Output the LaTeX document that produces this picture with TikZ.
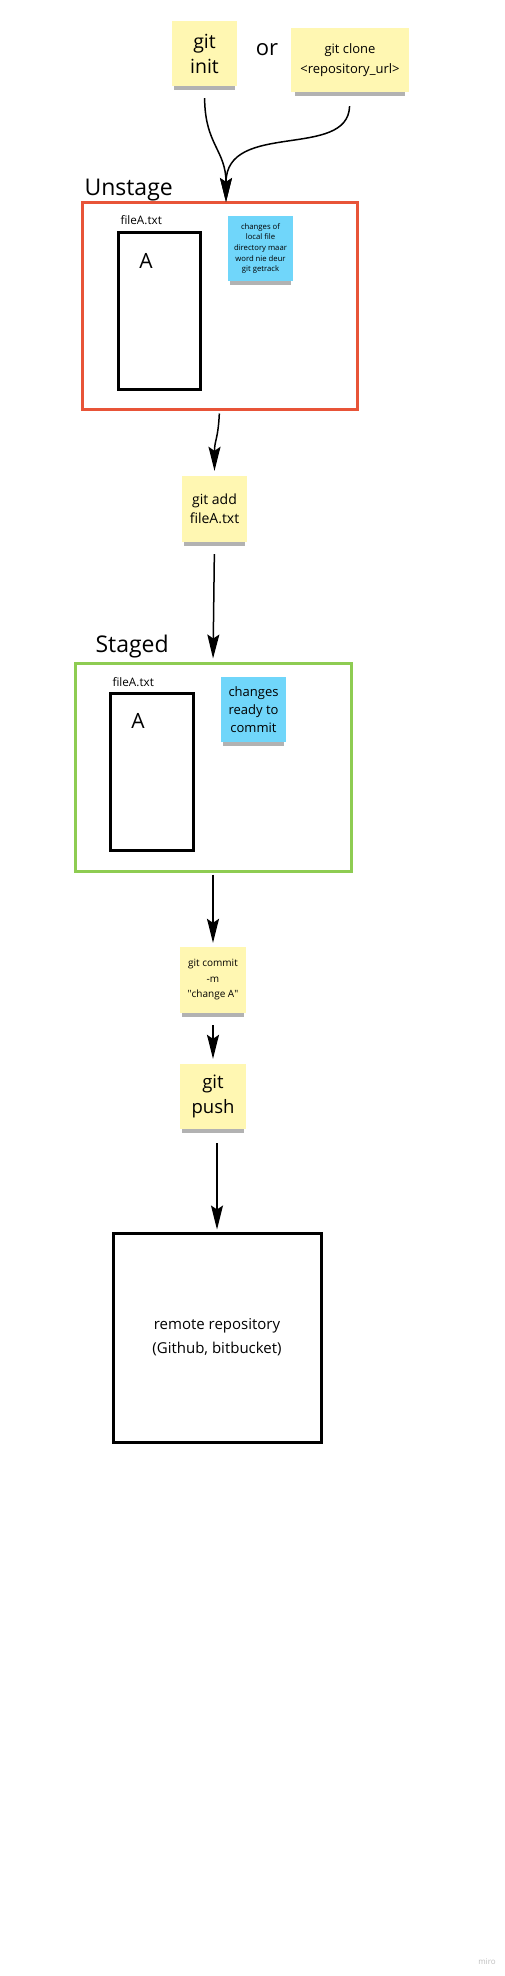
\documentclass[tikz,border=0pt]{standalone}
\usepackage{fontspec}
\setmainfont{Open Sans}
\usetikzlibrary{arrows.meta, positioning, shadows}

\definecolor{stickyyellow}{RGB}{255,247,178}
\definecolor{stickyblue}{RGB}{112,214,250}
\definecolor{unstagered}{RGB}{232,84,56}
\definecolor{stagedgreen}{RGB}{142,204,82}

\begin{document}
\begin{tikzpicture}[x=1pt, y=-1pt,
    sticky/.style={fill=stickyyellow, inner sep=0pt, align=center,
        drop shadow={shadow xshift=0pt, shadow yshift=-6pt, shadow scale=0.94, opacity=0.3, fill=black}},
    note/.style={sticky, fill=stickyblue},
    frame/.style={draw, line width=3pt, inner sep=0pt},
    flow/.style={-{Stealth[length=24pt, width=12pt, inset=4pt]}, line width=1.5pt},
    heading/.style={font=\fontsize{23}{28}\selectfont, anchor=base west},
    filelabel/.style={font=\fontsize{11.7}{14}\selectfont, anchor=base west},
    letter/.style={font=\fontsize{21}{25}\selectfont, anchor=base}]

    % Page
    \fill[white] (0,0) rectangle (505,1976);
    \useasboundingbox (0,0) rectangle (505,1976);

    % Start commands
    \node[sticky, minimum width=65pt, minimum height=65pt, font=\fontsize{19.5}{25}\selectfont] (init) at (204.5,53.5) {git\\init};
    \node[font=\fontsize{22}{26}\selectfont] (or) at (267,50) {or};
    \node[sticky, minimum width=118pt, minimum height=64pt, font=\fontsize{13}{20}\selectfont] (clone) at (350,60) {git clone\\<repository\_url>};

    % Unstage area
    \node[heading] (unstagelabel) at (81,195) {Unstage};
    \node[frame, draw=unstagered, minimum width=275pt, minimum height=207pt] (unstage) at (219.5,305.5) {};
    \node[filelabel] (fileAlabel1) at (117,224) {fileA.txt};
    \node[frame, minimum width=82pt, minimum height=157pt] (fileA1) at (159,310.5) {};
    \node[letter] (letter1) at (146,268) {A};
    \node[note, minimum width=65pt, minimum height=65pt, font=\fontsize{7.7}{10.7}\selectfont] (note1) at (260.5,248.5) {changes of\\local file\\directory maar\\word nie deur\\git getrack};

    % Into the unstage area
    \coordinate (unstagein) at (226,202);
    \draw[flow, shorten <=12pt] (init.south) .. controls (205,145) and (226,150) .. (unstagein);
    \draw[flow, shorten <=14pt] (clone.south) .. controls (348,160) and (226,120) .. (unstagein);

    % git add
    \node[sticky, minimum width=65pt, minimum height=66pt, font=\fontsize{14}{19}\selectfont] (add) at (214.5,509) {git add\\fileA.txt};
    \draw[flow, shorten <=3pt, shorten >=5pt] (unstage.south) .. controls (218,440) and (214.5,440) .. (add.north);

    % Staged area
    \node[heading] (stagedlabel) at (92,652) {Staged};
    \node[frame, draw=stagedgreen, minimum width=276pt, minimum height=208pt] (staged) at (213,767) {};
    \node[filelabel] (fileAlabel2) at (109,686) {fileA.txt};
    \node[frame, minimum width=83pt, minimum height=157pt] (fileA2) at (151.5,771.5) {};
    \node[letter] (letter2) at (138,728) {A};
    \node[note, minimum width=65pt, minimum height=65pt, font=\fontsize{13}{18}\selectfont] (note2) at (253.5,709.5) {changes\\ready to\\commit};

    % Commit and push
    \node[sticky, minimum width=66pt, minimum height=66pt, font=\fontsize{10}{15.5}\selectfont] (commit) at (213,980) {git commit\\-m\\\textquotedbl change A\textquotedbl};
    \node[sticky, minimum width=66pt, minimum height=65pt, font=\fontsize{18.5}{25}\selectfont] (push) at (213,1096.5) {git\\push};

    % Remote
    \node[frame, minimum width=208pt, minimum height=209pt, align=center, font=\fontsize{15}{24}\selectfont] (remote) at (217,1337.5) {remote repository\\(Github, bitbucket)};

    % Flow down
    \foreach \from/\to/\gap/\tip in {add/staged/12/3, staged/commit/2/4, commit/push/12/5}
        \draw[flow, shorten <=\gap pt, shorten >=\tip pt] (\from.south) -- (\to.north);
    \draw[flow, shorten <=14pt, shorten >=2pt] (push.south -| remote.north) -- (remote.north);

    % Watermark
    \node[text=black!25, font=\fontsize{8}{10}\selectfont] (miro) at (487,1962) {miro};
\end{tikzpicture}
\end{document}
